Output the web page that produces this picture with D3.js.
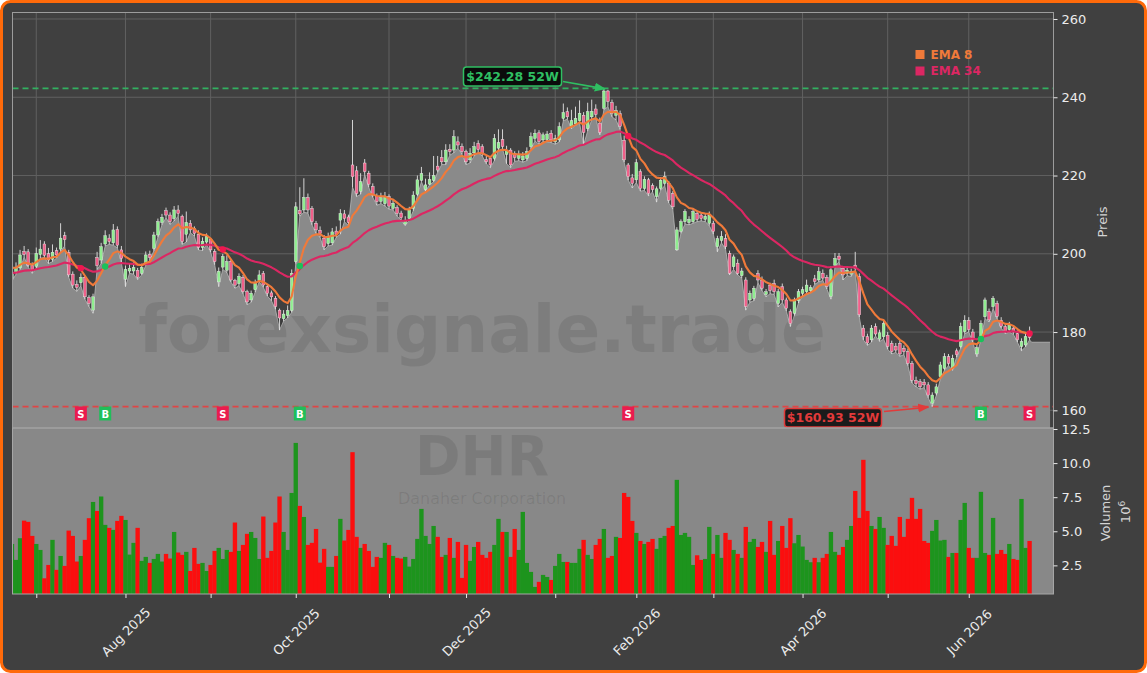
<!DOCTYPE html>
<html><head><meta charset="utf-8">
<script src="https://cdn.jsdelivr.net/npm/d3@7"></script>
<style>
html,body{margin:0;padding:0;background:#fff;}
svg{display:block;font-family:"DejaVu Sans",sans-serif;}
</style></head><body>
<svg id="c" width="1147" height="673"></svg>
<script>
// ---------------- DATA ----------------
const open = [
193.8,195.2,196.4,200.6,200.5,197.0,196.8,199.8,202.5,200.0,
198.6,200.8,201.2,204.6,200.4,194.8,192.2,192.6,194.0,188.8,
185.6,199.0,198.4,202.5,204.0,202.8,206.2,201.0,193.5,195.6,
195.6,195.8,195.0,197.5,199.8,201.4,204.8,208.0,211.0,209.9,
209.0,211.2,209.6,205.0,207.8,206.4,205.0,201.6,203.0,203.6,
200.6,192.8,196.6,195.8,198.0,193.2,192.4,194.0,190.3,188.2,
190.8,193.2,195.0,191.6,190.0,188.6,185.6,183.4,184.2,185.5,
198.0,211.0,211.2,214.4,211.6,207.8,206.0,204.0,202.6,202.8,
205.8,208.6,210.2,209.4,222.7,221.2,216.0,223.2,220.6,217.2,
214.6,213.4,212.8,214.6,211.6,211.8,210.4,207.6,209.0,211.6,
215.2,218.8,216.4,217.8,218.8,222.4,224.6,223.5,226.7,226.5,
228.6,227.4,226.1,224.0,225.8,228.2,227.4,224.1,224.4,224.4,
227.0,229.2,225.4,226.5,225.6,224.4,224.0,224.4,227.4,229.5,
230.9,229.1,229.2,230.8,228.6,229.1,234.6,236.3,232.6,233.2,
234.0,235.4,232.0,235.0,237.0,233.4,237.2,241.6,238.6,235.4,
235.8,229.0,222.7,219.4,218.9,221.0,216.7,218.9,217.4,214.6,
216.7,218.0,218.0,215.4,201.0,205.7,208.2,208.0,208.2,210.3,
209.9,208.8,207.8,207.8,201.8,203.4,203.9,200.1,196.7,197.6,
194.4,193.3,188.2,188.6,194.9,193.3,189.6,192.0,192.4,187.3,
191.6,188.2,185.2,184.8,188.0,189.9,190.3,190.6,193.6,193.3,
195.0,194.0,189.1,197.1,199.4,196.3,195.0,194.8,197.1,194.2,
181.0,178.8,178.0,181.4,178.2,178.8,179.2,177.1,176.4,177.1,
175.8,175.0,172.0,167.6,167.3,167.2,166.5,161.8,164.4,168.6,
170.7,173.7,170.7,175.2,176.3,180.1,183.0,180.0,174.4,178.8,
183.9,185.2,186.5,187.3,183.0,181.4,180.6,181.0,179.6,176.3,
176.7,179.6];
const high = [
196.5,197.8,201.0,202.0,201.2,197.8,201.6,203.5,203.2,201.5,
202.4,201.6,207.8,205.6,201.0,195.5,193.2,195.0,194.4,189.4,
189.8,200.5,202.8,206.0,205.0,207.6,207.0,202.0,197.0,197.4,
197.8,196.4,197.5,200.6,200.8,205.6,209.0,210.2,211.8,210.6,
212.2,212.4,210.0,210.8,208.6,207.0,206.0,204.2,205.2,204.0,
201.2,196.5,200.0,199.6,198.6,193.6,195.0,194.6,190.8,190.6,
193.4,195.8,195.6,192.2,190.6,189.2,186.0,185.6,186.8,196.0,
213.2,217.0,219.3,215.4,212.2,208.4,207.0,204.8,205.4,206.6,
207.0,211.4,211.2,210.0,234.2,222.4,220.6,224.2,221.2,218.0,
215.4,215.6,215.8,215.2,214.0,212.4,211.0,209.6,212.0,216.0,
220.0,222.2,219.2,220.8,225.0,225.0,226.5,228.0,228.0,231.6,
230.0,228.2,226.6,227.0,228.6,229.0,228.0,225.0,225.0,230.6,
231.8,231.8,227.6,227.0,226.2,226.4,226.0,227.2,231.0,231.8,
231.6,231.0,231.4,231.6,230.4,233.6,238.4,237.4,236.8,237.6,
239.2,236.2,238.6,239.4,238.2,234.8,242.28,241.9,239.4,237.8,
236.6,230.2,223.2,220.4,224.2,221.6,219.8,219.4,218.0,217.2,
219.6,221.0,218.6,216.0,206.8,208.8,211.4,209.6,211.6,211.0,
210.6,210.4,210.8,208.4,204.6,205.8,205.0,200.8,199.8,198.6,
196.4,194.0,190.6,191.8,195.8,194.2,191.0,192.6,193.4,191.0,
192.4,188.8,185.8,188.8,191.0,191.6,193.4,192.0,194.6,196.6,
196.0,194.6,196.8,200.2,200.2,196.8,196.6,196.2,200.5,195.0,
181.8,179.6,181.8,182.2,180.6,183.0,180.0,177.8,177.2,178.0,
176.6,175.8,172.6,168.6,168.0,168.0,167.2,164.6,166.8,172.4,
174.6,174.4,174.2,175.8,182.4,184.3,183.8,180.8,176.8,183.0,
188.8,186.0,189.2,188.0,183.8,182.2,182.6,181.8,180.4,178.4,
179.6,181.4];
const low = [
193.0,194.8,196.0,199.2,196.6,195.0,196.2,198.9,199.0,197.5,
198.0,198.9,200.5,202.0,194.0,191.2,190.4,191.8,188.4,186.5,
184.8,196.0,197.5,202.0,202.4,202.2,201.5,197.6,191.6,195.0,
194.8,193.4,194.6,197.0,198.2,200.8,204.2,207.4,209.2,207.5,
208.4,209.6,202.4,203.0,205.4,204.5,201.0,200.8,202.4,200.4,
197.2,191.6,196.0,195.2,192.8,191.2,191.8,189.8,187.0,187.6,
190.2,192.8,191.4,189.2,188.0,185.8,180.5,182.8,183.6,185.0,
197.5,209.6,210.6,210.4,207.4,205.2,204.2,201.0,202.0,202.2,
204.2,205.0,208.2,207.2,217.0,214.6,215.2,220.2,217.0,214.4,
212.4,212.8,212.2,211.4,211.2,209.6,208.6,207.2,208.6,211.0,
214.8,218.4,216.0,217.6,218.4,220.8,222.8,222.8,225.2,225.8,
227.0,225.4,222.8,223.2,225.0,225.8,225.0,223.0,222.0,223.8,
226.4,226.8,223.0,222.0,223.6,223.8,223.4,223.8,226.8,228.8,
228.0,228.6,228.6,228.4,228.0,228.6,234.0,234.4,232.0,232.8,
233.4,227.8,231.4,234.2,234.8,230.4,236.8,237.6,235.0,234.2,
231.8,223.4,218.8,216.8,218.2,216.0,216.2,214.8,215.8,213.2,
216.2,217.4,213.0,211.4,200.8,205.2,207.6,207.4,207.8,208.2,
208.4,208.2,207.2,205.0,200.5,202.8,201.2,194.6,196.0,194.6,
193.8,185.6,187.6,188.0,192.6,190.6,189.0,189.8,189.6,186.4,
187.6,185.4,181.4,184.2,187.4,189.2,189.6,190.0,192.2,192.8,
193.2,191.0,188.4,196.6,198.0,193.3,194.4,194.2,195.8,183.8,
178.0,176.6,177.4,179.0,177.6,178.2,175.6,174.4,174.8,173.8,
174.2,171.4,167.0,166.0,165.4,165.8,163.2,160.93,163.8,168.0,
170.2,171.4,170.2,173.6,175.8,179.6,180.0,177.4,173.7,178.2,
183.4,182.6,186.0,183.4,181.0,179.6,180.0,179.4,177.4,175.2,
176.2,178.0];
const close = [
195.0,196.5,199.7,199.8,197.1,195.9,200.1,201.2,199.6,198.4,
200.4,199.7,204.0,203.6,194.6,192.0,191.4,194.0,189.0,187.3,
189.0,197.0,201.8,204.6,203.1,206.1,202.2,198.8,196.0,196.3,
196.5,194.0,196.5,199.7,199.0,204.8,208.2,209.3,209.9,208.2,
211.2,210.3,203.1,208.0,206.1,205.2,201.6,203.2,204.4,201.0,
198.0,195.5,199.3,198.0,193.3,192.0,194.2,190.3,187.7,189.9,
192.5,194.6,192.0,189.9,189.0,186.5,183.6,184.6,185.5,195.0,
212.0,210.2,214.4,211.2,208.2,206.1,205.2,201.8,204.4,205.6,
205.0,210.3,209.0,208.0,219.7,215.4,218.4,221.0,217.8,215.0,
213.3,214.4,214.6,212.2,212.9,210.3,209.2,208.6,211.2,215.0,
218.9,220.5,217.6,219.0,220.0,221.4,223.5,226.5,226.1,229.9,
227.8,226.1,223.5,225.7,227.4,226.6,225.7,223.5,222.7,229.5,
228.4,227.4,226.4,222.7,224.6,225.4,225.0,226.1,229.9,230.8,
228.7,230.4,230.6,229.1,229.5,232.5,236.1,235.0,234.0,234.6,
235.9,231.0,236.3,236.4,235.6,231.0,241.6,238.9,235.9,236.6,
232.6,224.0,219.7,218.0,223.3,216.7,219.0,215.4,216.4,216.6,
218.8,219.7,213.7,212.0,206.1,208.2,210.8,208.8,210.8,208.8,
209.0,209.6,209.9,205.7,203.9,204.4,201.8,195.0,199.2,195.0,
195.6,186.5,189.9,191.2,193.3,191.2,190.3,190.6,190.3,190.3,
188.2,186.1,182.2,188.2,190.3,190.8,192.0,191.4,192.9,195.4,
193.8,191.6,195.9,198.8,198.6,194.6,195.8,195.4,196.3,184.4,
178.8,177.2,181.0,179.5,179.8,182.2,176.3,175.0,175.4,174.4,
175.0,172.0,167.7,166.8,166.0,166.5,163.9,163.9,166.0,171.6,
173.7,172.0,173.3,174.2,181.4,183.0,180.6,178.0,176.0,182.2,
188.2,183.1,188.6,184.0,181.5,180.2,181.8,180.0,178.0,177.6,
178.8,178.6];
// volume in millions
const volume = [
4.07,2.90,4.49,5.78,5.69,4.66,4.07,3.63,1.55,2.53,
4.37,2.17,3.19,2.46,5.05,4.66,2.78,3.19,4.37,5.96,
7.15,6.49,7.55,5.47,5.25,5.10,5.76,6.13,5.83,3.29,
4.15,5.25,2.83,3.12,2.68,2.97,3.34,2.78,3.34,3.00,
4.95,3.44,3.27,3.49,2.09,3.78,2.61,2.68,2.09,2.53,
3.56,3.78,2.97,3.63,3.49,5.64,3.56,4.00,4.81,4.95,
4.51,2.97,6.08,3.05,3.56,5.64,7.55,4.95,3.63,7.81,
11.48,6.86,6.05,4.00,4.15,5.17,2.70,3.71,2.39,2.39,
3.19,5.91,4.32,5.10,10.80,4.59,3.78,4.07,3.56,2.39,
3.12,3.05,4.15,4.00,3.19,3.05,3.00,3.12,2.41,2.97,
4.44,6.64,4.66,4.07,5.39,4.59,3.12,3.27,4.51,3.05,
4.22,1.58,4.00,2.83,3.85,4.22,3.27,3.05,3.49,4.00,
5.91,4.95,4.95,3.12,5.17,3.63,6.42,2.68,2.02,0.92,
1.29,1.80,1.65,1.43,2.46,3.34,2.75,2.75,2.68,2.68,
3.71,4.37,3.27,2.97,4.00,4.44,5.17,3.05,3.19,4.59,
4.51,7.81,7.52,5.76,4.88,4.29,4.07,4.22,4.44,3.71,
4.51,4.66,5.25,5.39,8.77,4.73,4.88,4.59,2.53,3.24,
2.90,2.97,5.32,3.34,4.73,3.05,4.88,4.37,3.63,3.34,
3.05,5.32,4.22,4.44,3.85,4.22,3.49,5.76,3.27,4.29,
5.39,3.78,5.96,4.12,4.73,3.88,2.90,2.73,3.05,2.73,
3.05,3.34,4.95,3.49,3.27,3.85,4.37,5.39,7.96,5.98,
10.24,6.49,5.39,5.17,6.05,5.25,4.00,4.66,3.93,6.05,
4.59,5.91,7.45,5.91,6.64,4.29,4.15,5.03,5.83,4.32,
4.37,3.12,3.41,3.41,5.83,7.08,3.78,3.05,3.05,7.89,
3.41,3.27,5.98,3.34,3.63,3.34,4.07,2.97,2.90,7.37,
3.78,4.29];
// flat tail of the shaded area after the last bar
const tailIdx = [251.5, 256.05];
const tailLow = [177.4, 177.4];
// month ticks (bar index of first trading day) and labels
const monthTickIdx = [6,28,49,70,93,112,134,154,173,195,216,236];
const monthLabels = ["","Aug 2025","","Oct 2025","","Dec 2025","","Feb 2026","","Apr 2026","","Jun 2026"];
const priceTicks = [160,180,200,220,240,260];
const volTicks = [2.5,5.0,7.5,10.0,12.5];
// EMA settings and seeds (values at first bar)
const emaPeriods = [8,34];
const emaSeeds = [196.4,195.1];
const emaNames = ["EMA 8","EMA 34"];
// crossover signals
const signalIdx = [17,23,52,71,152,239,251];
const signalType = ["S","B","S","B","S","B","S"];
// 52-week extremes
const high52 = 242.28, high52Idx = 146;
const low52 = 160.93, low52Idx = 227;
const ticker = "DHR", company = "Danaher Corporation", watermark = "forexsignale.trade";

// ---------------- LAYOUT ----------------
const W=1147,H=673;
const L=12.5,R=1053.5,PT=12.5,PB=428,VT=428,VB=594;
const C_EMA = ["#f07a3a","#dc2763"];
const C_UP="#90ee90", C_DN="#f0608a";
const svg=d3.select("#c");

svg.append("rect").attr("width",W).attr("height",H).attr("fill","#ffffff");
svg.append("rect").attr("x",1.5).attr("y",1.5).attr("width",W-3).attr("height",H-3)
  .attr("rx",9).attr("fill","#404040").attr("stroke","#ff6a0a").attr("stroke-width",3);

const x=d3.scaleLinear().domain([0.135,256.9]).range([L,R]);
const step=x(1)-x(0);
const y=d3.scaleLinear().domain([155.48,261.66]).range([PB,PT]);
const yv=d3.scaleLinear().domain([0.4,12.573]).range([VB,VT]);

const defs=svg.append("defs");
defs.append("clipPath").attr("id","cp").append("rect").attr("x",L).attr("y",PT).attr("width",R-L).attr("height",PB-PT);
defs.append("clipPath").attr("id","cv").append("rect").attr("x",L).attr("y",VT).attr("width",R-L).attr("height",VB-VT);
function marker(id,color){
  defs.append("marker").attr("id",id).attr("viewBox","0 0 10 10").attr("refX",9).attr("refY",5)
   .attr("markerWidth",7).attr("markerHeight",7).attr("orient","auto-start-reverse")
   .append("path").attr("d","M0,1 L10,5 L0,9 z").attr("fill",color);
}
marker("ag","#2fbf62"); marker("ar","#e23a3a");

// ---------- price panel ----------
const gp=svg.append("g").attr("clip-path","url(#cp)");
gp.selectAll(".hg").data(priceTicks).join("line").attr("x1",L).attr("x2",R)
  .attr("y1",d=>y(d)).attr("y2",d=>y(d)).attr("stroke","#606060").attr("stroke-width",1);
gp.selectAll(".vg").data(monthTickIdx).join("line").attr("y1",PT).attr("y2",PB)
  .attr("x1",d=>x(d)).attr("x2",d=>x(d)).attr("stroke","#606060").attr("stroke-width",1);

const areaPts = low.map((v,i)=>[i,v]).concat(tailIdx.map((t,k)=>[t,tailLow[k]]));
gp.append("path").datum(areaPts)
  .attr("d",d3.area().x(d=>x(d[0])).y0(PB).y1(d=>y(d[1])))
  .attr("fill","#8a8a8a");
gp.append("path").datum(areaPts)
  .attr("d",d3.line().x(d=>x(d[0])).y(d=>y(d[1])))
  .attr("fill","none").attr("stroke","#b9b9b9").attr("stroke-width",0.8);

gp.append("text").attr("x",482).attr("y",352).attr("text-anchor","middle")
  .attr("font-size",66).attr("font-weight","bold").attr("fill","#000").attr("fill-opacity",0.09)
  .text(watermark);

gp.append("line").attr("x1",L).attr("x2",R).attr("y1",y(high52)).attr("y2",y(high52))
  .attr("stroke","#33b060").attr("stroke-width",1.6).attr("stroke-dasharray","6,4");
gp.append("line").attr("x1",L).attr("x2",R).attr("y1",y(low52)).attr("y2",y(low52))
  .attr("stroke","#e04545").attr("stroke-width",1.6).attr("stroke-dasharray","6,4");

const idx=d3.range(close.length);
gp.selectAll(".wick").data(idx).join("line")
  .attr("x1",i=>x(i)).attr("x2",i=>x(i)).attr("y1",i=>y(high[i])).attr("y2",i=>y(low[i]))
  .attr("stroke","#e4e4e4").attr("stroke-width",0.9);
const bw=step*0.68;
gp.selectAll(".body").data(idx).join("rect")
  .attr("x",i=>x(i)-bw/2).attr("width",bw)
  .attr("y",i=>y(Math.max(open[i],close[i])))
  .attr("height",i=>Math.max(0.8,Math.abs(y(open[i])-y(close[i]))))
  .attr("fill",i=>close[i]>=open[i]?C_UP:C_DN)
  .attr("stroke","#f2f2f2").attr("stroke-width",0.4);

function ema(vals,n,seed){const a=2/(n+1);let e=seed;return vals.map((v,i)=>{if(i>0)e=a*v+(1-a)*e;return e;});}
const emas=emaPeriods.map((p,k)=>ema(close,p,emaSeeds[k]));
const lineGen=d3.line().x((d,i)=>x(i)).y(d=>y(d)).curve(d3.curveLinear);
[1,0].forEach(k=>{
  gp.append("path").datum(emas[k]).attr("d",lineGen).attr("fill","none")
    .attr("stroke",C_EMA[k]).attr("stroke-width",2.1).attr("stroke-linejoin","round");
});
gp.selectAll(".dot").data(signalIdx).join("circle")
  .attr("cx",i=>x(i)).attr("cy",(i)=>y((emas[0][i]+emas[1][i])/2)).attr("r",3.2)
  .attr("fill",(d,k)=>signalType[k]==="B"?"#19c25a":"#f0174f");

const sg=gp.selectAll(".sig").data(signalIdx).join("g")
  .attr("transform",i=>`translate(${x(i)},413.5)`);
sg.append("rect").attr("x",-6).attr("y",-7).attr("width",12).attr("height",14)
  .attr("fill",(d,k)=>signalType[k]==="B"?"#1fbf5a":"#ea1c4f");
sg.append("text").attr("text-anchor","middle").attr("y",4).attr("font-size",10).attr("font-weight","bold")
  .attr("fill","#fff").text((d,k)=>signalType[k]);

function annot(txt,bx,by,bw_,bh,col,bg,ax1,ay1,ax2,ay2,mk){
  const g=svg.append("g");
  g.append("rect").attr("x",bx).attr("y",by).attr("width",bw_).attr("height",bh).attr("rx",3)
   .attr("fill",bg).attr("stroke",col).attr("stroke-width",1.5);
  g.append("text").attr("x",bx+bw_/2).attr("y",by+bh/2+4.5).attr("text-anchor","middle")
   .attr("font-size",12.5).attr("font-weight","bold").attr("fill",col).text(txt);
  g.append("line").attr("x1",ax1).attr("y1",ay1).attr("x2",ax2).attr("y2",ay2)
   .attr("stroke",col).attr("stroke-width",1.6).attr("marker-end",`url(#${mk})`);
}
annot(`$${high52.toFixed(2)} 52W`,463.5,67,98,19,"#2fbf62","#0b0b0b",563,81.5,x(high52Idx)+1,y(high52)+0.5,"ag");
annot(`$${low52.toFixed(2)} 52W`,784.5,408.5,97,18.5,"#e23a3a","#1b1b1b",884,411.5,x(low52Idx)-4,y(low52)+0.5,"ar");

emaNames.forEach((n,k)=>{
  svg.append("rect").attr("x",915.5).attr("y",50+k*16.5).attr("width",9).attr("height",9).attr("fill",C_EMA[k]);
  svg.append("text").attr("x",930.5).attr("y",58.5+k*16.5).attr("font-size",12).attr("font-weight","bold")
   .attr("fill",C_EMA[k]).text(n);
});

// ---------- volume panel ----------
svg.append("rect").attr("x",L).attr("y",VT).attr("width",R-L).attr("height",VB-VT).attr("fill","#888888");
const gv=svg.append("g").attr("clip-path","url(#cv)");
gv.append("text").attr("x",482).attr("y",475).attr("text-anchor","middle").attr("font-size",55)
  .attr("font-weight","bold").attr("fill","#000").attr("fill-opacity",0.09).text(ticker);
gv.append("text").attr("x",482).attr("y",503.5).attr("text-anchor","middle").attr("font-size",16)
  .attr("fill","#000").attr("fill-opacity",0.09).text(company);
gv.selectAll(".vb").data(idx).join("rect")
  .attr("x",i=>x(i)-step/2-0.15).attr("width",step+0.3)
  .attr("y",i=>yv(volume[i])).attr("height",i=>VB-yv(volume[i])+2)
  .attr("fill",i=>close[i]>=open[i]?"#1d941d":"#fb0e0e");

svg.append("rect").attr("x",L).attr("y",PT).attr("width",R-L).attr("height",PB-PT)
  .attr("fill","none").attr("stroke","#9c9c9c").attr("stroke-width",1);
svg.append("rect").attr("x",L).attr("y",VT).attr("width",R-L).attr("height",VB-VT)
  .attr("fill","none").attr("stroke","#a6a6a6").attr("stroke-width",1);

// ---------- axes ----------
function styleAxis(g){
  g.select(".domain").remove();
  g.selectAll(".tick line").attr("stroke","#e8e8e8");
  g.selectAll(".tick text").attr("fill","#ececec").attr("font-size",13).attr("font-family","DejaVu Sans");
}
svg.append("g").attr("transform",`translate(${R},0)`)
  .call(d3.axisRight(y).tickValues(priceTicks).tickSize(4).tickPadding(4)).call(styleAxis);
svg.append("g").attr("transform",`translate(${R},0)`)
  .call(d3.axisRight(yv).tickValues(volTicks).tickFormat(d3.format(".1f")).tickSize(4).tickPadding(4)).call(styleAxis);
const gx=svg.append("g").attr("transform",`translate(0,${VB})`)
  .call(d3.axisBottom(x).tickValues(monthTickIdx).tickFormat((d,i)=>monthLabels[i]).tickSize(4));
styleAxis(gx);
gx.selectAll(".tick text").attr("y",0).attr("dy","0.35em")
  .attr("transform","translate(0,38) rotate(-45)").attr("text-anchor","middle");

svg.append("text").attr("transform","translate(1107,222) rotate(-90)").attr("text-anchor","middle")
  .attr("font-size",13).attr("fill","#d4d4d4").text("Preis");
svg.append("text").attr("transform","translate(1110,513) rotate(-90)").attr("text-anchor","middle")
  .attr("font-size",13).attr("fill","#d4d4d4").text("Volumen");
const t6=svg.append("text").attr("transform","translate(1130,512) rotate(-90)").attr("text-anchor","middle")
  .attr("font-size",13).attr("fill","#d4d4d4");
t6.append("tspan").text("10");
t6.append("tspan").attr("dy",-5).attr("font-size",9).text("6");
</script>
</body></html>
